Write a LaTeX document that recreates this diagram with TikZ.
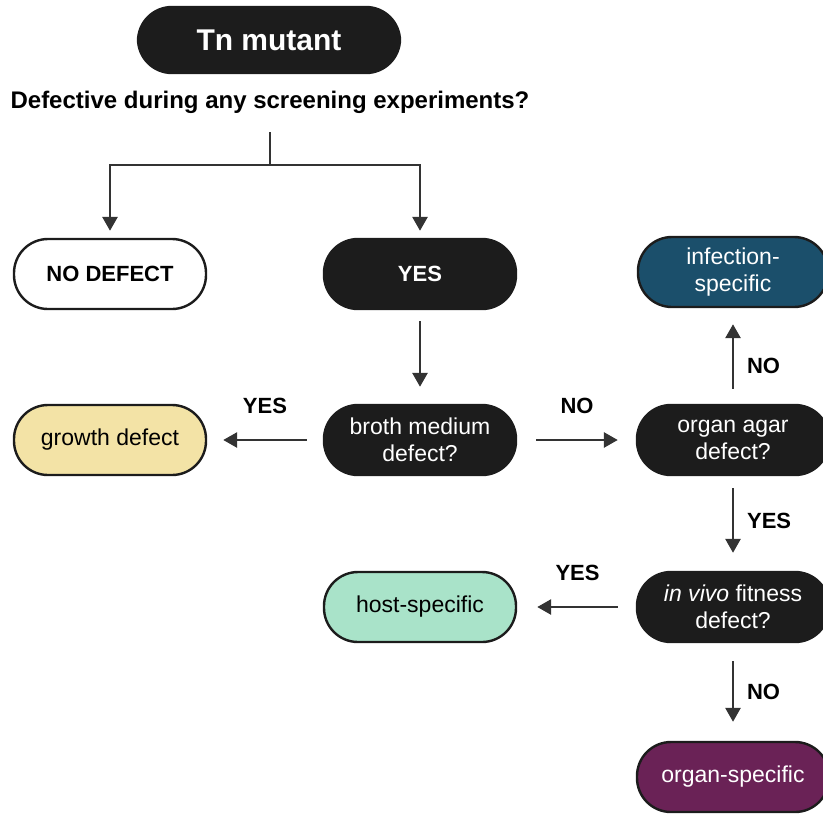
\documentclass[tikz,border=0pt]{standalone}
\usepackage{fontspec}
\setmainfont{Liberation Sans}
\usepackage{tikz}
\usetikzlibrary{arrows.meta}

\definecolor{pillblack}{HTML}{1C1C1C}
\definecolor{linegray}{HTML}{333333}
\definecolor{teal}{HTML}{1B4F6B}
\definecolor{sand}{HTML}{F3E3A6}
\definecolor{mint}{HTML}{A9E3C9}
\definecolor{plum}{HTML}{6A2256}

\begin{document}
\begin{tikzpicture}[x=0.5pt,y=-0.5pt,
	pill/.style={rectangle, rounded corners=17pt, draw=pillblack, line width=1.2pt,
		minimum width=96pt, minimum height=35pt, align=center, font=\fontsize{11.5}{13.5}\selectfont},
	dark/.style={pill, fill=pillblack, text=white},
	lbl/.style={font=\bfseries\fontsize{11}{13}\selectfont},
	arr/.style={-{Triangle[width=7.5pt,length=7pt]}, draw=linegray, line width=1.4pt}]
\useasboundingbox (0,0) rectangle (823,814);
\node [dark, minimum width=131pt, minimum height=33pt, font=\bfseries\fontsize{15}{17}\selectfont] (tn) at (269,40) {Tn mutant};
\node [lbl, font=\bfseries\fontsize{12}{14}\selectfont] (q) at (270,102) {Defective during any screening experiments?};
\coordinate (j) at (270,165);
\node [pill, fill=white, font=\bfseries\fontsize{11}{13}\selectfont] (a) at (110,274) {NO DEFECT};
\node [dark, font=\bfseries\fontsize{11}{13}\selectfont] (b) at (420,274) {YES};
\node [dark] (c) at (420,440) {broth medium\\defect?};
\node [pill, fill=sand] (d) at (110,440) {growth defect};
\node [dark] (e) at (733,440) {organ agar\\defect?};
\node [pill, fill=teal, text=white, minimum width=95pt] (f) at (733,272) {infection-\\specific};
\node [dark] (g) at (733,607) {\textit{in vivo} fitness\\defect?};
\node [pill, fill=mint] (h) at (420,607) {host-specific};
\node [pill, fill=plum, text=white] (i) at (733,777) {organ-specific};

\draw [draw=linegray, line width=1.4pt] (270,132) -- (j);
\draw [arr] (j) -| ([yshift=3.5pt]a.north);
\draw [arr] (j) -| ([yshift=3.5pt]b.north);
\draw [arr] ([yshift=-5.5pt]b.south) -- ([yshift=8.5pt]c.north);
\draw [arr] ([xshift=-8pt]c.west) -- node [lbl, above=9pt] {YES} ([xshift=8pt]d.east);
\draw [arr] ([xshift=9.5pt]c.east) -- node [lbl, above=9pt] {NO} ([xshift=-9pt]e.west);
\draw [arr] ([yshift=7.5pt]e.north) -- node [lbl, right=3pt, pos=0.35] {NO} ([yshift=-8pt]f.south);
\draw [arr] ([yshift=-6pt]e.south) -- node [lbl, right=3pt] {YES} ([yshift=9pt]g.north);
\draw [arr] ([xshift=-9pt]g.west) -- node [lbl, above=9pt] {YES} ([xshift=10pt]h.east);
\draw [arr] ([yshift=-9pt]g.south) -- node [lbl, right=3pt] {NO} ([yshift=9.5pt]i.north);
\end{tikzpicture}
\end{document}
